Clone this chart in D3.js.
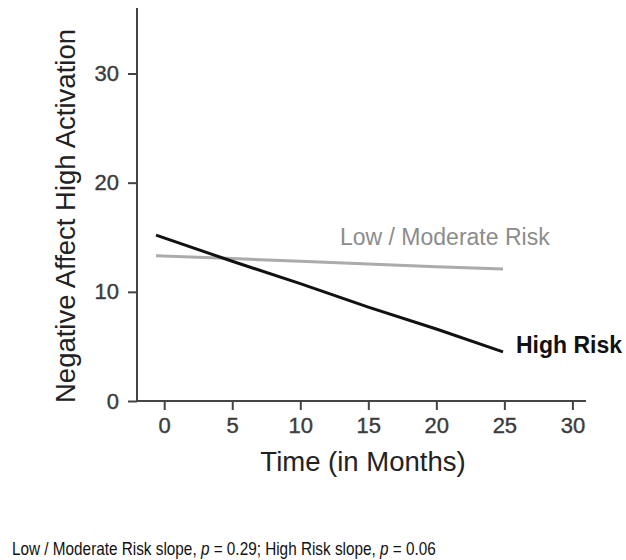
<!DOCTYPE html>
<html><head><meta charset="utf-8">
<script src="https://cdn.jsdelivr.net/npm/d3@7"></script>
<style>body{margin:0;background:#fff}text{font-family:Arial,"Liberation Sans",sans-serif}</style>
</head><body>
<svg id="c" width="626" height="560"></svg>
<script>
const months = [-0.6, 5, 10, 15, 20, 24.9];
const highRisk = [15.2, 12.8, 10.75, 8.6, 6.6, 4.5];
const lowModRisk = [13.3, 13.05, 12.8, 12.55, 12.3, 12.1];
const xTicks = [0, 5, 10, 15, 20, 25, 30];
const yTicks = [0, 10, 20, 30];
const seriesNames = ["Low / Moderate Risk", "High Risk"];
const footnote = ["Low / Moderate Risk slope, ", "p", " = 0.29; High Risk slope, ", "p", " = 0.06"];

const svg = d3.select("#c");
const x = d3.scaleLinear().domain([-2, 31]).range([137, 586]);
const y = d3.scaleLinear().domain([0, 36]).range([401, 8]);
const axisColor = "#444";

const xAxis = svg.append("g").attr("transform", "translate(0,401)")
  .call(d3.axisBottom(x).tickValues(xTicks).tickSize(9).tickPadding(7));
const yAxis = svg.append("g").attr("transform", "translate(137,0)")
  .call(d3.axisLeft(y).tickValues(yTicks).tickSize(9).tickPadding(9));
[xAxis, yAxis].forEach(g => {
  g.select(".domain").attr("stroke", axisColor).attr("stroke-width", 2);
  g.selectAll(".tick line").attr("stroke", axisColor).attr("stroke-width", 2);
  g.selectAll(".tick text").attr("fill", "#3c3c3c").attr("font-size", 22)
    .style("font-family", "Arial, 'Liberation Sans', sans-serif").style("stroke", "#3c3c3c").style("stroke-width", 0.4);
});
xAxis.select(".domain").attr("d", "M137,0H586");
yAxis.select(".domain").attr("d", "M0,8V401");

const line = d3.line().x(d => x(d[0])).y(d => y(d[1]));
svg.append("path").datum(months.map((m, i) => [m, lowModRisk[i]]))
  .attr("d", line).attr("fill", "none").attr("stroke", "#ababab").attr("stroke-width", 3);
svg.append("path").datum(months.map((m, i) => [m, highRisk[i]]))
  .attr("d", line).attr("fill", "none").attr("stroke", "#111").attr("stroke-width", 3);

svg.append("text").attr("x", 340).attr("y", 245).attr("fill", "#8c8c8c").attr("font-size", 23)
  .text(seriesNames[0]);
svg.append("text").attr("x", 516).attr("y", 353).attr("fill", "#111").attr("font-size", 23).attr("font-weight", "bold")
  .text(seriesNames[1]);

svg.append("text").attr("x", 363).attr("y", 471).attr("text-anchor", "middle").attr("fill", "#222").attr("font-size", 27.5)
  .text("Time (in Months)");
svg.append("text").attr("transform", "translate(75,216) rotate(-90)").attr("text-anchor", "middle")
  .attr("fill", "#222").attr("font-size", 27.5).text("Negative Affect High Activation");

const fn = svg.append("text").attr("fill", "#111").attr("font-size", 18);
footnote.forEach(s => fn.append("tspan").attr("font-style", s === "p" ? "italic" : null).text(s));
const len = fn.node().getComputedTextLength();
fn.attr("transform", `translate(12,555) scale(${424 / len},1)`);
</script>
</body></html>
